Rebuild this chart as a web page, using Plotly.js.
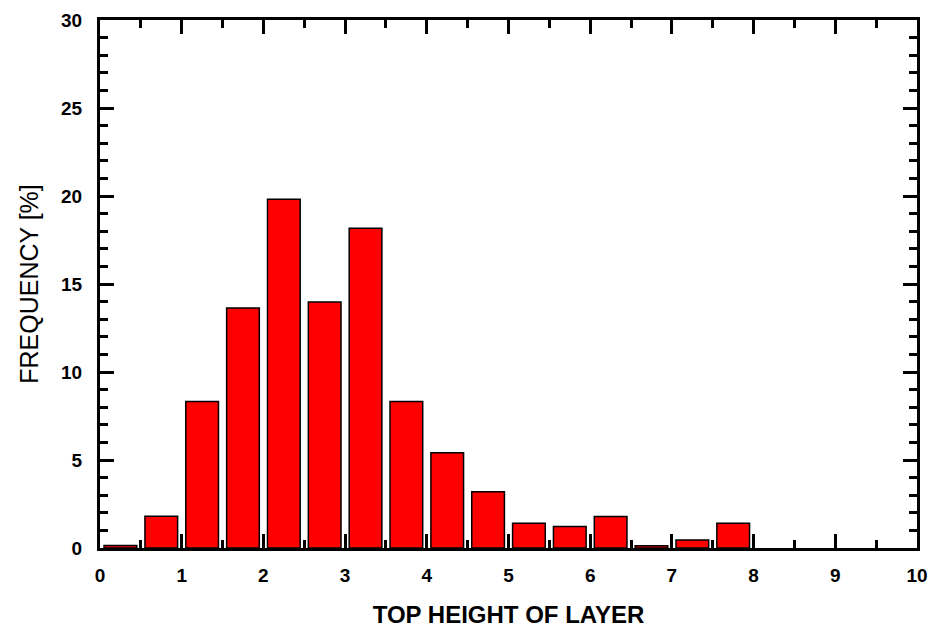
<!DOCTYPE html>
<html>
<head>
<meta charset="utf-8">
<script src="https://cdn.plot.ly/plotly-3.0.1.min.js"></script>
<style>html,body{margin:0;padding:0;background:#fff}#chart{width:944px;height:631px}</style>
</head>
<body>
<div id="chart"></div>
<script>
const binCenters = [0.25, 0.75, 1.25, 1.75, 2.25, 2.75, 3.25, 3.75, 4.25, 4.75, 5.25, 5.75, 6.25, 6.75, 7.25, 7.75];
const frequency = [0.14, 1.8, 8.33, 13.63, 19.81, 13.98, 18.17, 8.33, 5.41, 3.2, 1.4, 1.22, 1.79, 0.13, 0.45, 1.4];
const xTickVals = [0,1,2,3,4,5,6,7,8,9,10];
const yTickVals = [0,5,10,15,20,25,30];
const xTitle = 'TOP HEIGHT OF LAYER';
const yTitle = 'FREQUENCY [%]';

const trace = {
  type: 'bar',
  x: binCenters,
  y: frequency,
  width: 0.4,
  marker: {color: '#ff0000', line: {color: '#000000', width: 1.5}},
  hoverinfo: 'x+y'
};

const fam = 'Liberation Sans, Arial, sans-serif';
const tickFont = {family: fam, size: 19, color: '#000', weight: 'bold'};

const layout = {
  width: 944, height: 631,
  margin: {l: 100, r: 27, t: 20, b: 83},
  paper_bgcolor: '#fff', plot_bgcolor: '#fff',
  showlegend: false,
  bargap: 0,
  xaxis: {
    range: [0, 10],
    tickvals: xTickVals,
    ticks: 'inside', ticklen: 14, tickwidth: 3, tickcolor: '#000',
    minor: {dtick: 0.5, ticks: 'inside', ticklen: 8, tickwidth: 3, tickcolor: '#000', showgrid: false},
    showline: true, linewidth: 3, linecolor: '#000', mirror: 'allticks',
    showgrid: false, zeroline: false,
    tickfont: tickFont,
    ticklabelstandoff: 8,
    title: {text: xTitle, font: {family: fam, size: 24, color: '#000', weight: 'bold'}, standoff: 22}
  },
  yaxis: {
    range: [0, 30],
    tickvals: yTickVals,
    ticks: 'inside', ticklen: 14, tickwidth: 3, tickcolor: '#000',
    minor: {dtick: 1, ticks: 'inside', ticklen: 8, tickwidth: 3, tickcolor: '#000', showgrid: false},
    showline: true, linewidth: 3, linecolor: '#000', mirror: 'allticks',
    showgrid: false, zeroline: false,
    tickfont: tickFont,
    ticklabelstandoff: 11,
    title: {text: yTitle, font: {family: fam, size: 25, color: '#000'}, standoff: 16}
  }
};

Plotly.newPlot('chart', [trace], layout, {displayModeBar: false, staticPlot: true});
</script>
</body>
</html>
